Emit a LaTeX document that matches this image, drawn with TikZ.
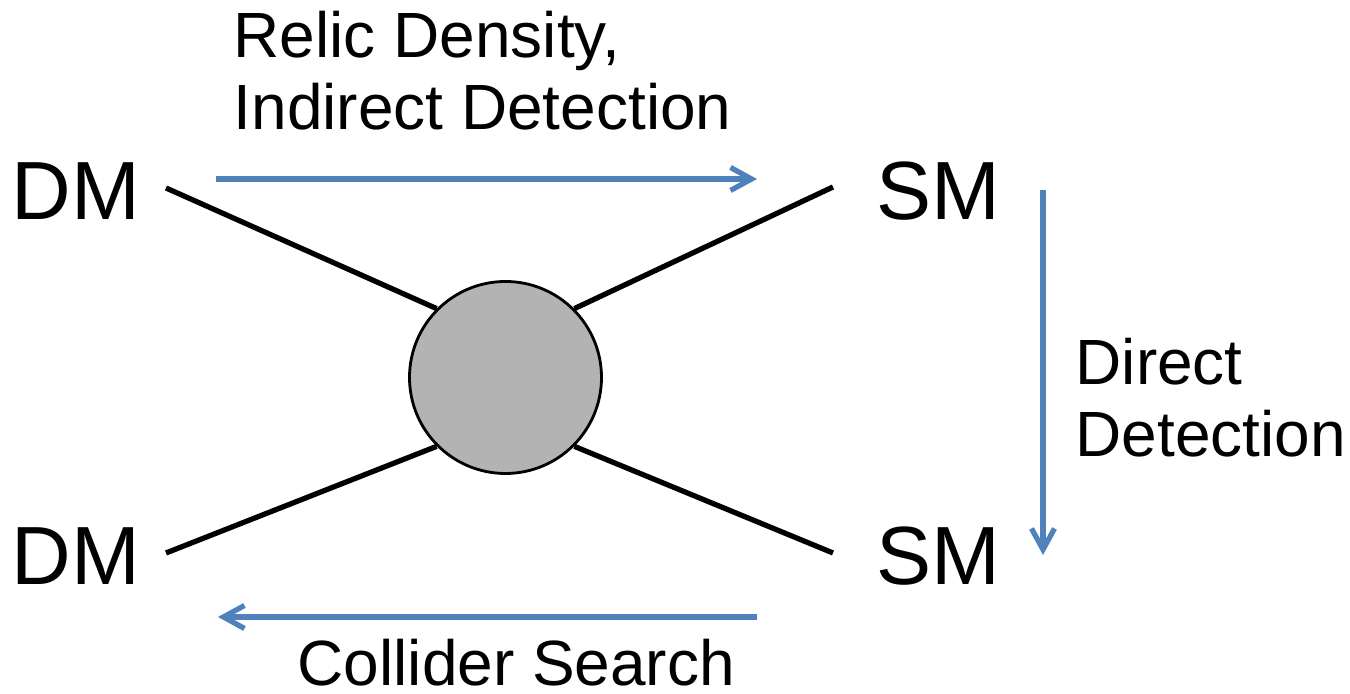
\documentclass[tikz,border=0pt]{standalone}
\usepackage{fontspec}
\setmainfont{Liberation Sans}
\usepackage{xcolor}
\usetikzlibrary{arrows.meta}
\definecolor{arrowblue}{RGB}{79,129,189}
\definecolor{blobgray}{RGB}{179,179,179}

\begin{document}
\begin{tikzpicture}[
    particle/.style={anchor=base west, inner sep=0pt, font=\fontsize{23.5}{27}\selectfont},
    process/.style={anchor=base west, inner sep=0pt, align=left, font=\fontsize{18.2}{20.5}\selectfont},
    leg/.style={line width=1.5pt},
    flow/.style={arrowblue, line width=1.5pt, -{Straight Barb[length=2.1mm,width=2.3mm]}}
]
    % Page size
    \useasboundingbox (0,0) rectangle (13.5,6.94);

    % Interaction blob
    \node[circle, draw, line width=0.8pt, fill=blobgray, minimum size=1.92cm, inner sep=0pt] (blob) at (5.055,3.165) {};

    % Particle labels
    \node[particle] (dmtop) at (0.11,4.74) {DM};
    \node[particle] (dmbot) at (0.11,1.09) {DM};
    \node[particle] (smtop) at (8.76,4.74) {SM};
    \node[particle] (smbot) at (8.76,1.09) {SM};

    % Legs
    \coordinate (legA) at (1.66,5.06);
    \coordinate (legB) at (8.33,5.07);
    \coordinate (legC) at (1.66,1.41);
    \coordinate (legD) at (8.33,1.41);
    \draw[leg] (legA) -- (blob.135);
    \draw[leg] (legB) -- (blob.45);
    \draw[leg] (legC) -- (blob.225);
    \draw[leg] (legD) -- (blob.315);

    % Arrows
    \coordinate (relicS) at (2.16,5.15);
    \coordinate (relicE) at (7.57,5.15);
    \coordinate (directS) at (10.43,5.04);
    \coordinate (directE) at (10.43,1.39);
    \coordinate (colliderS) at (7.57,0.77);
    \coordinate (colliderE) at (2.18,0.77);
    \draw[flow] (relicS) -- (relicE);
    \draw[flow] (directS) -- (directE);
    \draw[flow] (colliderS) -- (colliderE);

    % Labels (base is the last line)
    \node[process] (relic) at (2.33,5.64) {Relic Density,\\Indirect Detection};
    \node[process] (direct) at (10.75,2.37) {Direct\\Detection};
    \node[process] (collider) at (2.97,0.08) {Collider Search};
\end{tikzpicture}
\end{document}
